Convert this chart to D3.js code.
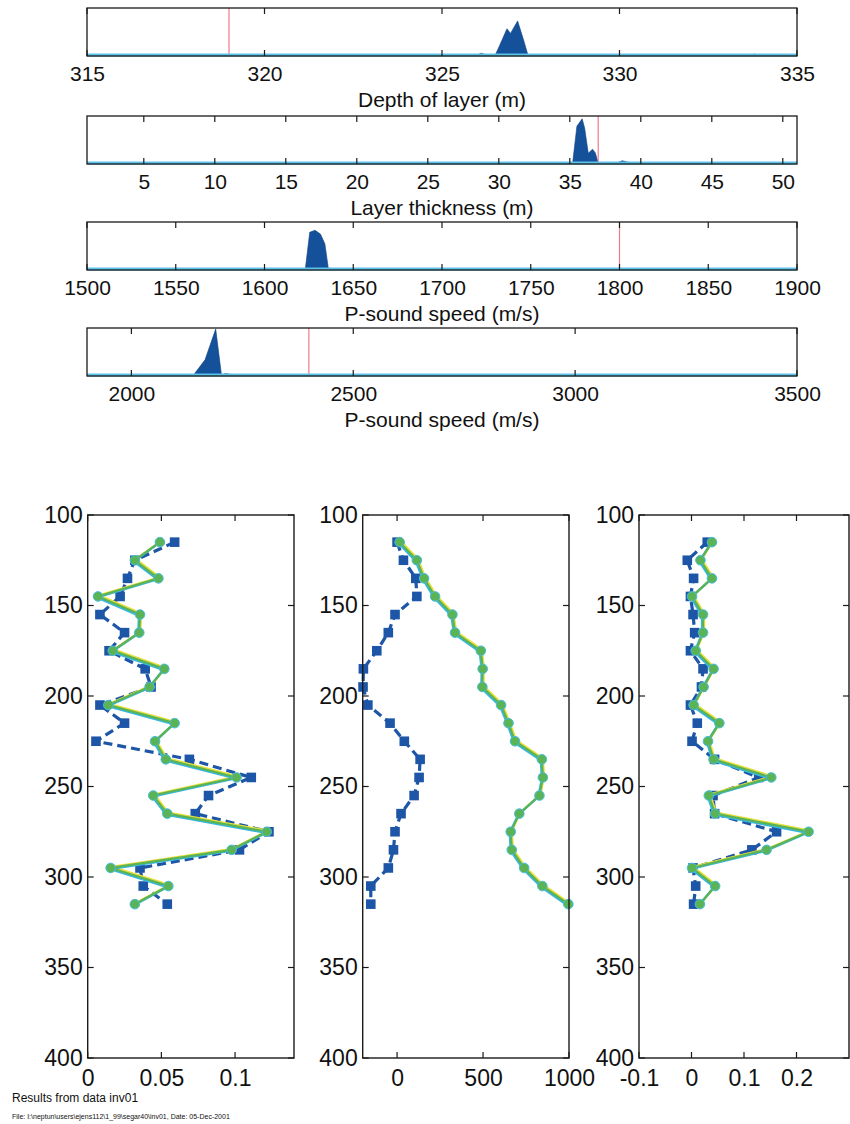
<!DOCTYPE html>
<html><head><meta charset="utf-8">
<script src="https://cdn.jsdelivr.net/npm/d3@7"></script>
<style>
body{margin:0;background:#fff;}
svg text{font-family:"Liberation Sans",Arial,Helvetica,sans-serif;fill:#111;}
</style></head><body>
<svg id="chart" width="850" height="1124"></svg>
<script>
// ---------- top histograms ----------
const histTitles = ["Depth of layer (m)", "Layer thickness (m)", "P-sound speed (m/s)", "P-sound speed (m/s)"];
const histDomains = [[315, 335], [1, 51], [1500, 1900], [1900, 3500]];
const histTicks = [[315, 320, 325, 330, 335], [5, 10, 15, 20, 25, 30, 35, 40, 45, 50],
  [1500, 1550, 1600, 1650, 1700, 1750, 1800, 1850, 1900], [2000, 2500, 3000, 3500]];
const trueValues = [319, 37, 1800, 2400];

const depthHistX = [326.0, 326.1, 326.25, 326.5, 326.62, 326.83, 326.93, 327.13, 327.3, 327.42, 333.7, 333.8, 333.9];
const depthHistY = [0, 0.04, 0, 0, 0.2, 0.57, 0.47, 0.74, 0.32, 0, 0, 0.02, 0];
const thickHistX = [35.2, 35.5, 35.87, 36.05, 36.3, 36.6, 36.8, 37.0, 38.3, 38.7, 39.3];
const thickHistY = [0, 0.8, 0.96, 0.75, 0.21, 0.3, 0.22, 0, 0, 0.05, 0];
const speed1HistX = [1623, 1625.5, 1628.5, 1631.5, 1634, 1636, 1637, 1638];
const speed1HistY = [0, 0.8, 0.84, 0.76, 0.55, 0, 0.02, 0];
const speed2HistX = [2140, 2166, 2190, 2203, 2212, 2220, 2230];
const speed2HistY = [0, 0.33, 1.0, 0, 0.03, 0.02, 0];
const histXs = [depthHistX, thickHistX, speed1HistX, speed2HistX];
const histYs = [depthHistY, thickHistY, speed1HistY, speed2HistY];

// ---------- bottom profiles ----------
const depths = [115,125,135,145,155,165,175,185,195,205,215,225,235,245,255,265,275,285,295,305,315];
const profDomains = [[0, 0.14], [-200, 1000], [-0.1, 0.3]];
const profTicks = [[0, 0.05, 0.1], [0, 500, 1000], [-0.1, 0, 0.1, 0.2]];
const depthTicks = [100, 150, 200, 250, 300, 350, 400];
const profAGreen = [0.049,0.032,0.048,0.007,0.0355,0.035,0.017,0.052,0.042,0.014,0.059,0.0457,0.053,0.101,0.0445,0.054,0.1215,0.0977,0.0156,0.0547,0.032];
const profABlue  = [0.059,0.032,0.027,0.022,0.0083,0.025,0.0145,0.039,0.043,0.0083,0.025,0.0056,0.069,0.111,0.082,0.073,0.123,0.103,0.0355,0.0377,0.054];
const profBGreen = [15,115,157,221,322,337,487,498,496,605,648,686,842,848,828,711,661,667,739,845,996];
const profBBlue  = [0,37,109,115,-12,-51,-118,-196,-198,-170,-41,42,134,128,99,23,-12,-21,-51,-153,-153];
const profCGreen = [0.039,0.017,0.039,0.001,0.022,0.022,0.008,0.042,0.023,0.004,0.053,0.0315,0.042,0.152,0.033,0.045,0.223,0.143,0.001,0.045,0.016];
const profCBlue  = [0.030,-0.008,0.004,-0.002,0.003,0.006,-0.002,0.022,0.019,-0.002,0.011,0.001,0.044,0.128,0.041,0.044,0.162,0.115,0.003,0.008,0.004];
const greens = [profAGreen, profBGreen, profCGreen];
const blues = [profABlue, profBBlue, profCBlue];

const footer1 = "Results from data inv01";
const footer2 = "File: I:\\neptun\\users\\ejens112\\1_99\\segar40\\inv01, Date: 05-Dec-2001";

const svg = d3.select("#chart");
const frameColor = "#1a1a1a";
const histFill = "#15509b";
const baseCyan = "#5cc2ea";
const fontFam = '"Liberation Sans",Arial,sans-serif';

// top panels
const hLeft = 87, hRight = 797, hTops = [8, 116, 222, 328], hH = 48;
histTitles.forEach((title, i) => {
  const top = hTops[i];
  const x = d3.scaleLinear().domain(histDomains[i]).range([hLeft, hRight]);
  const y = d3.scaleLinear().domain([0, 1]).range([top + hH - 1, top + 1]);
  const g = svg.append("g");
  const pts = histXs[i].map((v, k) => [v, histYs[i][k]]);
  g.append("path").datum(pts)
    .attr("d", d3.area().x(d => x(d[0])).y0(y(0)).y1(d => y(d[1])))
    .attr("fill", histFill).attr("stroke", "#0e3f80").attr("stroke-width", 0.6);
  g.append("line").attr("x1", x(trueValues[i])).attr("x2", x(trueValues[i]))
    .attr("y1", top).attr("y2", top + hH).attr("stroke", "#f07a8c").attr("stroke-width", 1.2);
  g.append("line").attr("x1", hLeft).attr("x2", hRight).attr("y1", top + hH - 1).attr("y2", top + hH - 1)
    .attr("stroke", baseCyan).attr("stroke-width", 2.8);
  g.append("rect").attr("x", hLeft).attr("y", top).attr("width", hRight - hLeft).attr("height", hH)
    .attr("fill", "none").attr("stroke", frameColor).attr("stroke-width", 1.3);
  histTicks[i].forEach(t => {
    g.append("line").attr("x1", x(t)).attr("x2", x(t)).attr("y1", top).attr("y2", top + 6)
      .attr("stroke", frameColor).attr("stroke-width", 1.2);
    g.append("line").attr("x1", x(t)).attr("x2", x(t)).attr("y1", top + hH).attr("y2", top + hH - 6)
      .attr("stroke", frameColor).attr("stroke-width", 1.2);
  });
  const axis = d3.axisBottom(x).tickValues(histTicks[i]).tickSize(0).tickPadding(10).tickFormat(d3.format("d"));
  const ag = g.append("g").attr("transform", `translate(0,${top + hH})`).call(axis);
  ag.select(".domain").remove();
  ag.selectAll("text").attr("font-size", 21).style("font-family", fontFam).attr("fill", "#111");
  g.append("text").attr("x", (hLeft + hRight) / 2).attr("y", top + hH + 51)
    .attr("text-anchor", "middle").attr("font-size", 21).text(title);
});

// bottom panels
const pTop = 515, pBottom = 1058;
const pLefts = [87.7, 362.7, 639], pRights = [294, 569, 849];
const yScale = d3.scaleLinear().domain([100, 400]).range([pTop, pBottom]);
const blueCol = "#1d56a6";
const greenCol = "#5ab456";

profDomains.forEach((dom, i) => {
  const x = d3.scaleLinear().domain(dom).range([pLefts[i], pRights[i]]);
  const g = svg.append("g");
  const L = pLefts[i], R = pRights[i];
  const bPts = depths.map((d, k) => [blues[i][k], d]);
  const gPts = depths.map((d, k) => [greens[i][k], d]);
  const line = d3.line().x(d => x(d[0])).y(d => yScale(d[1]));
  g.append("path").datum(bPts).attr("d", line).attr("fill", "none")
    .attr("stroke", blueCol).attr("stroke-width", 3.2).attr("stroke-dasharray", "9,5");
  g.selectAll(".sq").data(bPts).enter().append("rect")
    .attr("x", d => x(d[0]) - 4.8).attr("y", d => yScale(d[1]) - 4.8)
    .attr("width", 9.6).attr("height", 9.6).attr("fill", blueCol);
  g.append("path").datum(gPts).attr("d", line).attr("fill", "none")
    .attr("stroke", "#e8df3a").attr("stroke-width", 2.4).attr("transform", "translate(1,-1)");
  g.append("path").datum(gPts).attr("d", line).attr("fill", "none")
    .attr("stroke", "#38b6e0").attr("stroke-width", 2.4).attr("transform", "translate(-1,1)");
  g.append("path").datum(gPts).attr("d", line).attr("fill", "none")
    .attr("stroke", greenCol).attr("stroke-width", 2.2);
  g.selectAll(".ci").data(gPts).enter().append("circle")
    .attr("cx", d => x(d[0])).attr("cy", d => yScale(d[1])).attr("r", 4.8)
    .attr("fill", greenCol).attr("stroke", "#45bde0").attr("stroke-width", 1);
  g.append("rect").attr("x", L).attr("y", pTop).attr("width", R - L).attr("height", pBottom - pTop)
    .attr("fill", "none").attr("stroke", frameColor).attr("stroke-width", 1.4);
  profTicks[i].forEach(t => {
    g.append("line").attr("x1", x(t)).attr("x2", x(t)).attr("y1", pTop).attr("y2", pTop + 6).attr("stroke", frameColor).attr("stroke-width", 1.2);
    g.append("line").attr("x1", x(t)).attr("x2", x(t)).attr("y1", pBottom).attr("y2", pBottom - 6).attr("stroke", frameColor).attr("stroke-width", 1.2);
  });
  depthTicks.forEach(t => {
    g.append("line").attr("x1", L).attr("x2", L + 6).attr("y1", yScale(t)).attr("y2", yScale(t)).attr("stroke", frameColor).attr("stroke-width", 1.2);
    g.append("line").attr("x1", R).attr("x2", R - 6).attr("y1", yScale(t)).attr("y2", yScale(t)).attr("stroke", frameColor).attr("stroke-width", 1.2);
  });
  const xa = d3.axisBottom(x).tickValues(profTicks[i]).tickSize(0).tickPadding(12).tickFormat(d => String(d));
  const xg = g.append("g").attr("transform", `translate(0,${pBottom})`).call(xa);
  xg.select(".domain").remove();
  xg.selectAll("text").attr("font-size", 23).attr("fill", "#111").style("font-family", fontFam);
  const ya = d3.axisLeft(yScale).tickValues(depthTicks).tickSize(0).tickPadding(5);
  const yg = g.append("g").attr("transform", `translate(${L},0)`).call(ya);
  yg.select(".domain").remove();
  yg.selectAll("text").attr("font-size", 23).attr("fill", "#111").style("font-family", fontFam);
});

svg.append("text").attr("x", 12).attr("y", 1102).attr("font-size", 12).text(footer1);
svg.append("text").attr("x", 12).attr("y", 1119).attr("font-size", 7).text(footer2);
</script>
</body></html>
